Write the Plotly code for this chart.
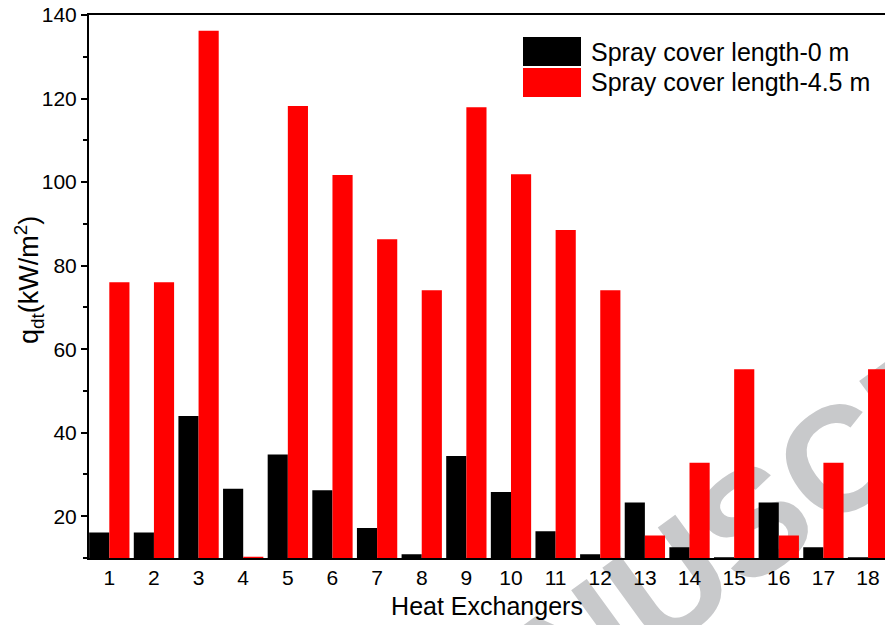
import math
import plotly.graph_objects as go

# Heat exchanger index
exchangers = list(range(1, 19))

# Heat flux q_dt (kW/m^2) for each spray cover length
q_cover_0 = [16.1, 16.1, 44.0, 26.6, 34.8, 26.2, 17.2, 10.9, 34.4,
             25.8, 16.4, 10.9, 23.3, 12.6, 10.2, 23.3, 12.6, 10.2]
q_cover_45 = [76.0, 76.0, 136.2, 10.3, 118.2, 101.7, 86.3, 74.1, 117.9,
              101.9, 88.5, 74.1, 15.4, 32.8, 55.2, 15.4, 32.8, 55.2]

series_names = ["Spray cover length-0 m", "Spray cover length-4.5 m"]
series_colors = ["#000000", "#ff0000"]

y_ticks = [20, 40, 60, 80, 100, 120, 140]

FONT = "Arial, 'Liberation Sans', sans-serif"
W, H = 885, 625
ML, MR, MT, MB = 89, 0, 15, 67
PW, PH = W - ML - MR, H - MT - MB


def px(x):
    return (x - ML) / PW


def py(y):
    return (H - MB - y) / PH


fig = go.Figure()
for name, vals, col in zip(series_names, [q_cover_0, q_cover_45], series_colors):
    fig.add_trace(go.Bar(
        x=exchangers, y=vals, name=name, base=0,
        marker=dict(color=col, line=dict(width=0)),
        showlegend=False,
    ))

# legend boxes and labels
box_x0, box_x1 = 523, 581
rows = [(37, 66), (68, 97)]
for (y0, y1), name, col in zip(rows, series_names, series_colors):
    fig.add_shape(type="rect", xref="paper", yref="paper",
                  x0=px(box_x0), x1=px(box_x1), y0=py(y1), y1=py(y0),
                  fillcolor=col, line=dict(width=0), layer="above")
    fig.add_annotation(x=px(589), y=py((y0 + y1) / 2), xref="paper", yref="paper",
                       text=name, showarrow=False, xanchor="left", yanchor="middle",
                       font=dict(family=FONT, size=25, color="#000"))

# y-axis title
fig.add_annotation(x=px(29), y=py(280), xref="paper", yref="paper",
                   text="q<sub>dt</sub>(kW/m<sup>2</sup>)", textangle=-90,
                   showarrow=False, xanchor="center", yanchor="middle",
                   font=dict(family=FONT, size=27, color="#000"))

# faint diagonal watermark behind the bars
ang = math.radians(36)
cx, cy, half = 745, 510, 300
fig.add_shape(type="line", xref="paper", yref="paper",
              x0=px(cx - half * math.cos(ang)), y0=py(cy + half * math.sin(ang)),
              x1=px(cx + half * math.cos(ang)), y1=py(cy - half * math.sin(ang)),
              line=dict(color="rgba(0,0,0,0)", width=0), layer="below",
              label=dict(text="<b>MANUSCRIPT</b>", textposition="middle", yanchor="middle",
                         font=dict(family=FONT, size=150, color="#c8c9cb")))

fig.update_layout(
    width=W, height=H,
    margin=dict(l=ML, r=MR, t=MT, b=MB),
    paper_bgcolor="white", plot_bgcolor="white",
    barmode="group", bargap=0.097, bargroupgap=0,
    font=dict(family=FONT, size=21, color="#000"),
    xaxis=dict(
        range=[0.545, 18.38], tickmode="array", tickvals=exchangers,
        ticks="", showgrid=False, zeroline=False,
        showline=True, linecolor="#000", linewidth=2, mirror=True,
        tickfont=dict(size=21),
        title=dict(text="Heat Exchangers", font=dict(size=25), standoff=9),
    ),
    yaxis=dict(
        range=[10, 140], tickmode="array", tickvals=y_ticks,
        ticks="outside", ticklen=6, tickwidth=2, tickcolor="#000",
        minor=dict(tickvals=[10, 30, 50, 70, 90, 110, 130], ticks="outside",
                   ticklen=4, tickwidth=2, tickcolor="#000"),
        showgrid=False, zeroline=False,
        showline=True, linecolor="#000", linewidth=2, mirror=False,
        tickfont=dict(size=21),
    ),
)

fig.write_html("out.html")
